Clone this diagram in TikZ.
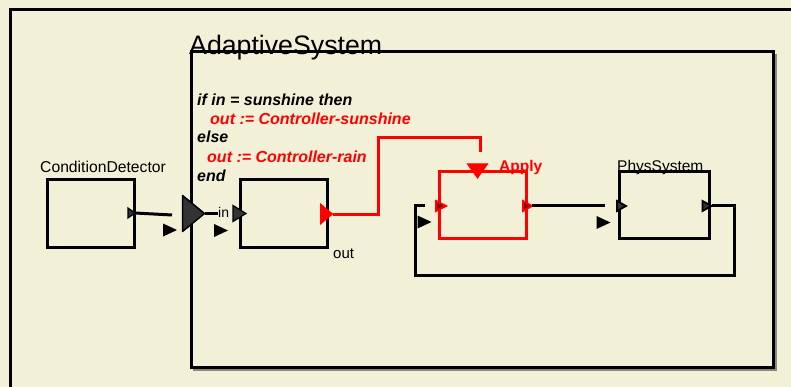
\documentclass[tikz,border=0pt]{standalone}
\usepackage{fontspec}
\setmainfont{Liberation Sans}
\definecolor{bg}{HTML}{F3F0D8}
\definecolor{portfill}{HTML}{333333}
\definecolor{shadowgray}{HTML}{8A8878}
\begin{document}
\begin{tikzpicture}[x=1pt,y=-1pt,
  blockbox/.style={rectangle, draw=black, line width=3pt, inner sep=0pt, minimum width=87pt, minimum height=67pt},
  wire/.style={line width=3pt, draw=black},
  redwire/.style={line width=3pt, draw=red},
  lbl/.style={font=\fontsize{15.5}{18}\selectfont, inner sep=0pt, anchor=base west},
  code/.style={font=\fontsize{16}{19}\selectfont\bfseries\itshape, inner sep=0pt, anchor=base west},
  marker/.style={fill=black, xscale=14, yscale=13},
  tri/.pic={\path[pic actions] (-0.5,-0.5) -- (0.5,0) -- (-0.5,0.5) -- cycle; \coordinate (-tip) at (0.5,0);},
  trid/.pic={\path[pic actions] (-0.5,-0.5) -- (0.5,-0.5) -- (0,0.5) -- cycle; \coordinate (-tip) at (0,0.5);},
]
\fill[bg] (0,0) rectangle (791,387);
\useasboundingbox (0,0) rectangle (791,387);
\clip (0,0) rectangle (791,387);

% outer frame
\node[rectangle, draw=black, line width=3pt, inner sep=0pt, minimum width=800pt, minimum height=400pt] (frame) at (410,210) {};

% AdaptiveSystem box with slight shadow
\draw[draw=shadowgray, line width=2pt] (775.5,54) -- (775.5,369.5) -- (193,369.5);
\node[rectangle, draw=black, line width=3pt, inner sep=0pt, minimum width=582pt, minimum height=315pt] (adaptive) at (482,209.5) {};
\node[anchor=base west, inner sep=0pt, font=\fontsize{26.7}{30}\selectfont] (title) at (189,55) {AdaptiveSystem};

% code text
\node[code] (c1) at (197,106) {if in = sunshine then};
\node[code, text=red] (c2) at (210,125) {out := Controller-sunshine};
\node[code] (c3) at (197,143) {else};
\node[code, text=red] (c4) at (207,163) {out := Controller-rain};
\node[code] (c5) at (197,182) {end};

% blocks
\node[blockbox] (cd) at (90.5,213.5) {};
\node[lbl, font=\fontsize{15.7}{18}\selectfont] (cdlabel) at (40,173) {ConditionDetector};
\node[blockbox] (ctrl) at (283.5,213.5) {};
\node[blockbox, draw=red, minimum width=87pt, minimum height=66pt] (apply) at (483,205) {};
\node[lbl, text=red, font=\fontsize{15.5}{18}\selectfont\bfseries] (applylabel) at (499,172) {Apply};
\node[blockbox, minimum width=90pt, minimum height=66pt] (phys) at (664,205) {};
\node[lbl] (physlabel) at (617,172) {PhysSystem};
\node[lbl, font=\fontsize{14}{16}\selectfont] (inlabel) at (218,217) {in};
\node[lbl, font=\fontsize{15}{17}\selectfont] (outlabel) at (333,258) {out};

% ports
\pic (cdout) [fill=portfill, draw=black, line width=1.2pt, xscale=7, yscale=10] at (131.5,213) {tri};
\pic (sysin) [fill=portfill, draw=black, line width=1.5pt, line join=round, xscale=22, yscale=36] at (193.5,213.5) {tri};
\pic (ctrlin) [fill=portfill, draw=black, line width=1.2pt, xscale=13, yscale=16] at (239.5,213.5) {tri};
\pic (ctrlout) [fill=red, draw=red, line width=1pt, xscale=12, yscale=20] at (326.5,214) {tri};
\pic (applyin) [fill=red!55!black, draw=red, line width=1.8pt, xscale=10, yscale=10] at (441,206) {tri};
\pic (applyout) [fill=red!55!black, draw=red, line width=1.8pt, xscale=9, yscale=10] at (527.5,206) {tri};
\pic (physin) [fill=portfill, draw=black, line width=1.8pt, xscale=9, yscale=10] at (621.5,206) {tri};
\pic (physout) [fill=portfill, draw=black, line width=1.8pt, xscale=9, yscale=10] at (707,206) {tri};
\pic (applyctl) [fill=red, draw=red, line width=1pt, xscale=20, yscale=14] at (477.5,171) {trid};

% orientation markers
\pic (m1) [marker] at (170,230) {tri};
\pic (m2) [marker] at (221,230.5) {tri};
\pic (m3) [marker] at (424.5,222) {tri};
\pic (m4) [marker] at (603.5,222.5) {tri};

% connectors
\coordinate (cdend) at (172,215);
\draw[wire] (cdout-tip) -- (cdend);
\coordinate (inend) at (218,213.5);
\draw[wire] (sysin-tip) -- (inend);
\coordinate (redcorner) at (378,138);
\coordinate (applyctlend) at (480,152);
\draw[redwire] (ctrlout-tip) -| (redcorner) -| (applyctlend);
\coordinate (physinend) at (605,206);
\draw[wire] (applyout-tip) -- (physinend);
\coordinate (fbright) at (734,275);
\coordinate (fbleft) at (415,275);
\coordinate (applyinend) at (425,206);
\draw[wire] (physout-tip) -| (fbright) -- (fbleft) |- (applyinend);
\end{tikzpicture}
\end{document}
